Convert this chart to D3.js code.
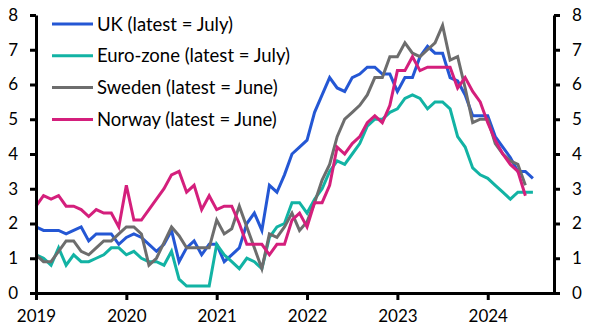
<!DOCTYPE html>
<html>
<head>
<meta charset="utf-8">
<script src="https://cdn.jsdelivr.net/npm/d3@7"></script>
<style>
  html, body { margin: 0; padding: 0; background: #fff; }
  text { font-family: Lato, "Open Sans", sans-serif; fill: #000; }
</style>
</head>
<body>
<svg id="chart" width="591" height="332"></svg>
<script>
// Monthly data, Jan 2019 onward (% y/y)
const startYear = 2019;
const yearLabels = ["2019", "2020", "2021", "2022", "2023", "2024"];
const yTicks = [0, 1, 2, 3, 4, 5, 6, 7, 8];

const ukValues = [
  1.9,1.8,1.8,1.8,1.7,1.8,1.9,1.5,1.7,1.7,1.7,1.4,
  1.6,1.7,1.6,1.4,1.2,1.4,1.8,0.9,1.3,1.5,1.1,1.4,
  1.4,0.9,1.1,1.3,2.0,2.3,1.8,3.1,2.9,3.4,4.0,4.2,
  4.4,5.2,5.7,6.2,5.9,5.8,6.2,6.3,6.5,6.5,6.3,6.3,
  5.8,6.2,6.2,6.8,7.1,6.9,6.9,6.2,6.1,5.7,5.1,5.1,
  5.1,4.5,4.2,3.9,3.5,3.5,3.3
];
const euroValues = [
  1.1,1.0,0.8,1.3,0.8,1.1,0.9,0.9,1.0,1.1,1.3,1.3,
  1.1,1.2,1.0,0.9,0.9,0.8,1.2,0.4,0.2,0.2,0.2,0.2,
  1.4,1.1,0.9,0.7,1.0,0.9,0.7,1.6,1.9,2.0,2.6,2.6,
  2.3,2.7,3.0,3.5,3.8,3.7,4.0,4.3,4.8,5.0,5.0,5.2,
  5.3,5.6,5.7,5.6,5.3,5.5,5.5,5.3,4.5,4.2,3.6,3.4,
  3.3,3.1,2.9,2.7,2.9,2.9,2.9
];
const swedenValues = [
  1.1,0.9,0.9,1.2,1.5,1.5,1.2,1.1,1.3,1.5,1.5,1.7,
  1.9,1.9,1.7,0.8,1.0,1.45,1.9,1.65,1.3,1.3,1.3,1.3,
  2.1,1.7,1.85,2.5,1.9,1.3,0.7,1.7,1.6,1.9,2.3,1.8,
  2.05,2.6,3.25,3.7,4.5,5.0,5.2,5.4,5.7,6.2,6.2,6.8,
  6.8,7.2,6.9,6.8,7.0,7.2,7.7,6.7,6.8,5.9,4.9,5.0,
  5.0,4.3,4.0,3.8,3.7,3.1
];
const norwayValues = [
  2.5,2.8,2.7,2.8,2.5,2.5,2.4,2.2,2.4,2.3,2.3,1.9,
  3.1,2.1,2.1,2.4,2.7,3.0,3.4,3.5,2.9,3.1,2.4,2.8,
  2.4,2.5,2.5,2.0,1.4,1.4,1.4,1.1,1.4,1.4,2.1,2.3,
  1.9,2.6,2.6,3.1,4.2,4.0,4.3,4.5,4.9,5.1,4.9,5.4,
  6.4,6.4,6.8,6.4,6.5,6.5,6.5,6.5,5.9,6.2,5.8,5.5,
  4.9,4.4,4.0,3.7,3.5,2.8
];

const seriesNames = ["UK (latest = July)", "Euro-zone (latest = July)", "Sweden (latest = June)", "Norway (latest = June)"];
const seriesColors = ["#2457d4", "#12b3a4", "#6d6d6d", "#d41f7c"];
const seriesValues = [ukValues, euroValues, swedenValues, norwayValues];

const svg = d3.select("#chart");
const mLeft = 36, mRight = 554, mTop = 15, mBottom = 293;

const x = d3.scaleLinear().domain([0, 68.8]).range([mLeft, mRight]);
const y = d3.scaleLinear().domain([0, 8]).range([mBottom, mTop]);

// Lines
const line = d3.line().x((d, i) => x(i)).y(d => y(d));
seriesValues.forEach((vals, k) => {
  svg.append("path")
    .datum(vals)
    .attr("fill", "none")
    .attr("stroke", seriesColors[k])
    .attr("stroke-width", 3)
    .attr("d", line);
});

// Axes
const axisStyle = g => {
  g.select(".domain").attr("stroke", "#000").attr("stroke-width", 3);
  g.selectAll(".tick line").attr("stroke", "#000").attr("stroke-width", 3);
  g.selectAll("text").style("font-size", "17px").attr("fill", "#000");
};

const leftAxis = d3.axisLeft(y).tickValues(yTicks).tickSize(6).tickSizeOuter(0).tickPadding(12).tickFormat(d3.format("d"));
svg.append("g").attr("transform", `translate(${mLeft},0)`).call(leftAxis).call(axisStyle);

const rightAxis = d3.axisRight(y).tickValues(yTicks).tickSize(6).tickSizeOuter(0).tickPadding(12).tickFormat(d3.format("d"));
svg.append("g").attr("transform", `translate(${mRight},0)`).call(rightAxis).call(axisStyle);

const xAxis = d3.axisBottom(x).tickValues(yearLabels.map((d, i) => i * 12)).tickSize(7).tickSizeOuter(0).tickPadding(10)
  .tickFormat((d, i) => yearLabels[i]);
svg.append("g").attr("transform", `translate(0,${mBottom})`).call(xAxis).call(axisStyle);

// Legend
const legend = svg.append("g");
seriesNames.forEach((name, k) => {
  const ly = 24 + k * 31.8;
  legend.append("line").attr("x1", 52).attr("x2", 93).attr("y1", ly).attr("y2", ly)
    .attr("stroke", seriesColors[k]).attr("stroke-width", 3);
  legend.append("text").attr("x", 97).attr("y", ly).attr("dy", "0.36em")
    .style("font-size", "18.5px").text(name);
});
</script>
</body>
</html>
